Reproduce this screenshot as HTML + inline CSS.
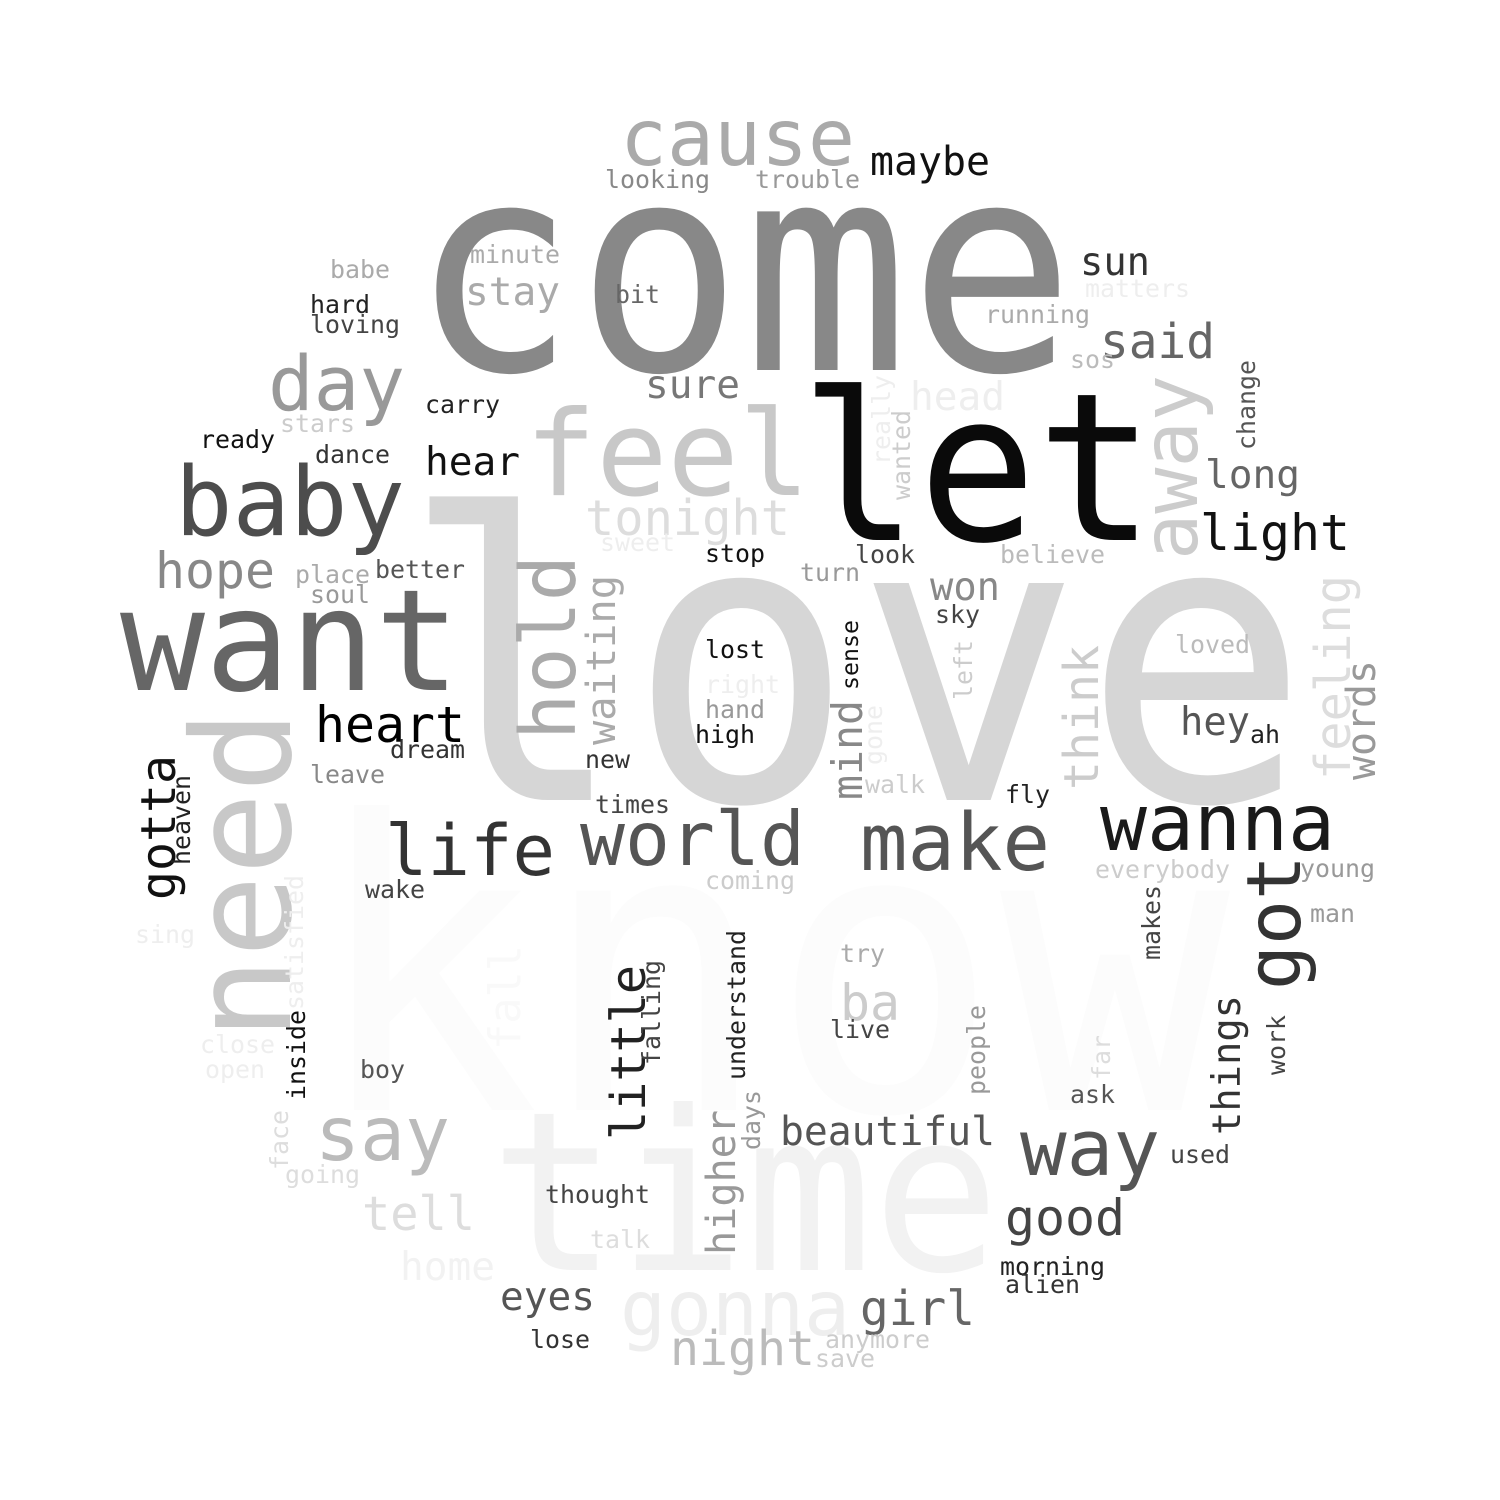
<!DOCTYPE html>
<html><head><meta charset="utf-8"><style>
html,body{margin:0;padding:0;background:#fff;}
svg{display:block;}
text{font-family:"DejaVu Sans Mono","Liberation Mono",monospace;}
</style></head><body>
<svg id="cloud" width="1500" height="1500" viewBox="0 0 1500 1500" xmlns="http://www.w3.org/2000/svg">
<rect width="1500" height="1500" fill="#fff"/>
</svg>
<script>
// words
const words = ["know","love","come","let","time","want","need","feel","baby","cause","day","away","life","world","make","wanna","heart","hold","waiting","tonight","got","way","say","gonna","night","girl","good","tell","home","eyes","lose","beautiful","thought","talk","higher","days","little","falling","understand","things","work","makes","people","far","ask","used","morning","alien","anymore","save","ba","live","try","coming","everybody","young","man","fly","walk","times","new","high","hand","right","lost","mind","sense","gone","left","won","sky","think","hey","ah","words","feeling","loved","light","believe","long","change","said","sos","running","matters","sun","maybe","trouble","looking","minute","stay","bit","babe","hard","loving","carry","stars","ready","dance","hear","sure","head","really","wanted","sweet","stop","look","turn","hope","place","better","soul","dream","leave","gotta","heaven","wake","satisfied","sing","inside","close","open","boy","face","going","fall"];
// gray level of each word (0 = black, 255 = white)
const grays = [252,214,136,10,242,102,200,200,77,170,153,204,51,85,85,26,0,170,170,221,51,85,187,238,187,102,68,221,242,85,51,85,68,221,153,153,34,68,34,51,68,68,153,221,85,68,34,51,204,204,204,68,170,204,204,153,153,34,204,68,51,17,153,238,17,136,17,238,204,136,68,204,85,34,153,221,187,17,187,102,85,102,187,170,238,51,17,153,136,170,170,102,170,34,68,34,204,17,51,17,119,238,238,204,238,17,68,153,136,170,85,153,51,136,17,34,68,238,238,17,238,238,85,221,221,249];
// layout: start x, baseline y, text length, rotation
const xs = [310,400,410,800,490,120,290,525,175,620,268,1197,385,580,860,1100,315,575,615,585,1300,1020,315,620,670,860,1005,362,400,500,530,780,545,590,735,760,645,660,745,1240,1285,1160,985,1110,1070,1170,1000,1005,825,815,840,830,840,705,1095,1300,1310,1005,865,595,585,695,705,705,705,862,858,882,972,930,935,1098,1180,1250,1375,1350,1175,1200,1000,1205,1255,1100,1070,985,1085,1080,870,755,605,470,465,615,330,310,310,425,280,200,315,425,645,910,890,910,600,705,855,800,155,295,375,310,390,310,175,190,365,303,135,305,200,205,360,288,285,520];
const ys = [1110,800,370,540,1270,690,1040,495,535,165,410,560,875,865,870,850,742,740,745,535,990,1175,1160,1335,1365,1325,1235,1230,1280,1310,1348,1145,1203,1248,1255,1150,1140,1065,1080,1135,1075,960,1095,1080,1103,1163,1275,1293,1348,1367,1020,1038,962,889,878,877,922,803,793,813,768,743,718,693,658,800,690,765,700,600,623,790,735,743,780,780,653,550,563,488,450,358,368,323,297,275,175,188,188,263,305,303,278,313,333,413,432,448,463,475,398,410,465,500,551,562,563,581,588,583,578,603,758,783,900,865,898,1010,943,1100,1053,1078,1078,1170,1183,1050];
const lens = [920,910,665,355,510,340,330,285,230,235,137,185,170,225,190,235,150,185,170,205,135,140,135,230,145,115,120,113,95,95,60,215,105,60,145,60,175,105,150,140,60,75,90,45,45,60,105,75,105,60,60,60,45,90,135,75,45,45,60,75,45,60,60,75,60,100,70,60,60,70,45,145,70,30,120,205,75,150,105,95,90,115,45,105,105,70,120,105,105,90,95,45,60,60,90,75,75,75,75,95,95,95,90,90,75,60,60,60,120,75,90,60,75,75,145,90,60,135,60,90,75,60,45,60,75,105];
const rots = [0,0,0,0,0,0,-90,0,0,0,0,-90,0,0,0,0,0,-90,-90,0,-90,0,0,0,0,0,0,0,0,0,0,0,0,0,-90,-90,-90,-90,-90,-90,-90,-90,-90,-90,0,0,0,0,0,0,0,0,0,0,0,0,0,0,0,0,0,0,0,0,0,-90,-90,-90,-90,0,0,-90,0,0,-90,-90,0,0,0,0,-90,0,0,0,0,0,0,0,0,0,0,0,0,0,0,0,0,0,0,0,0,0,-90,-90,0,0,0,0,0,0,0,0,0,0,-90,-90,0,-90,0,-90,0,0,0,-90,0,-90];

const svg = document.getElementById('cloud');
const NS = 'http://www.w3.org/2000/svg';
for (let i = 0; i < words.length; i++) {
  const w = words[i];
  const t = document.createElementNS(NS, 'text');
  
  
  let fs = lens[i] / (w.length * 0.602);
  if (fs > 150) fs *= 1.05;
  t.setAttribute('x', xs[i]);
  t.setAttribute('y', ys[i]);
  t.setAttribute('font-size', fs.toFixed(1));
  t.setAttribute('textLength', lens[i]);
  t.setAttribute('lengthAdjust', 'spacingAndGlyphs');
  const g = grays[i];
  t.setAttribute('fill', 'rgb(' + g + ',' + g + ',' + g + ')');
  if (rots[i]) t.setAttribute('transform', 'rotate(' + rots[i] + ' ' + xs[i] + ' ' + ys[i] + ')');
  t.textContent = w;
  svg.appendChild(t);
}
</script>
</body></html>
